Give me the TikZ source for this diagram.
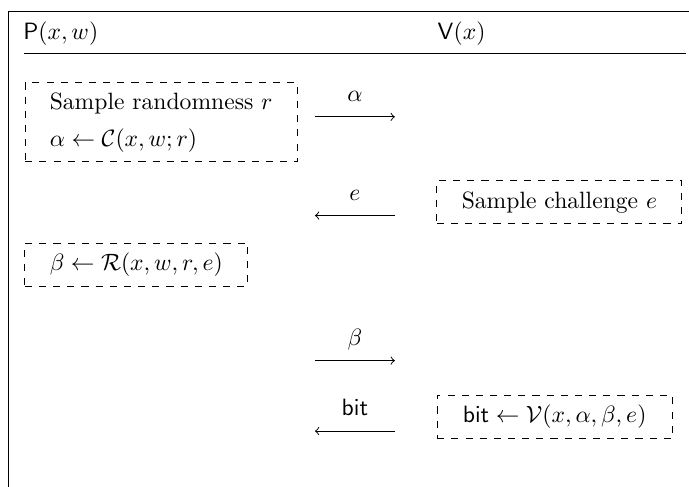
\documentclass[tikz,border=0pt]{standalone}
\usepackage{amsmath}
\begin{document}
\begin{tikzpicture}[
	actbox/.style={draw, dashed, minimum height=0.64cm, inner sep=0pt},
	msg/.style={midway, above=3pt, text depth=0pt}]

	% Fix the visible area
	\useasboundingbox (0,0) rectangle (10.26,7.25);

	% Draw the frame and the header
	\draw (10.26,7.08) -- (0.13,7.08) -- (0.13,0);
	\node[anchor=base west, inner sep=0] (prover) at (0.34,6.66) {$\mathsf{P}(x,w)$};
	\node[anchor=base west, inner sep=0] (verifier) at (6.51,6.66) {$\mathsf{V}(x)$};
	\draw (0.36,6.46) -- (10.22,6.46);

	% Draw the steps of both parties
	\node[actbox, minimum width=4.05cm, minimum height=1.18cm, align=left] (commit) at (2.40,5.43)
		{Sample randomness $r$\\[3.7pt] $\alpha \leftarrow \mathcal{C}(x,w;r)$};
	\node[actbox, minimum width=3.65cm] (challenge) at (8.33,4.24) {Sample challenge $e$};
	\node[actbox, minimum width=3.32cm] (respond) at (2.03,3.31) {$\beta \leftarrow \mathcal{R}(x,w,r,e)$};
	\node[actbox, minimum width=3.50cm] (check) at (8.26,1.04) {$\mathsf{bit} \leftarrow \mathcal{V}(x,\alpha,\beta,e)$};

	% Draw the messages between the two columns
	\coordinate (alphaL) at (4.69,5.51);
	\coordinate (alphaR) at (5.88,5.51);
	\coordinate (eL) at (4.69,4.04);
	\coordinate (eR) at (5.88,4.04);
	\coordinate (betaL) at (4.69,1.88);
	\coordinate (betaR) at (5.88,1.88);
	\coordinate (bitL) at (4.69,0.83);
	\coordinate (bitR) at (5.88,0.83);
	\draw[-to] (alphaL) -- (alphaR) node[msg] {$\alpha$};
	\draw[-to] (eR) -- (eL) node[msg] {$e$};
	\draw[-to] (betaL) -- (betaR) node[msg] {$\beta$};
	\draw[-to] (bitR) -- (bitL) node[msg] {$\mathsf{bit}$};

\end{tikzpicture}
\end{document}
